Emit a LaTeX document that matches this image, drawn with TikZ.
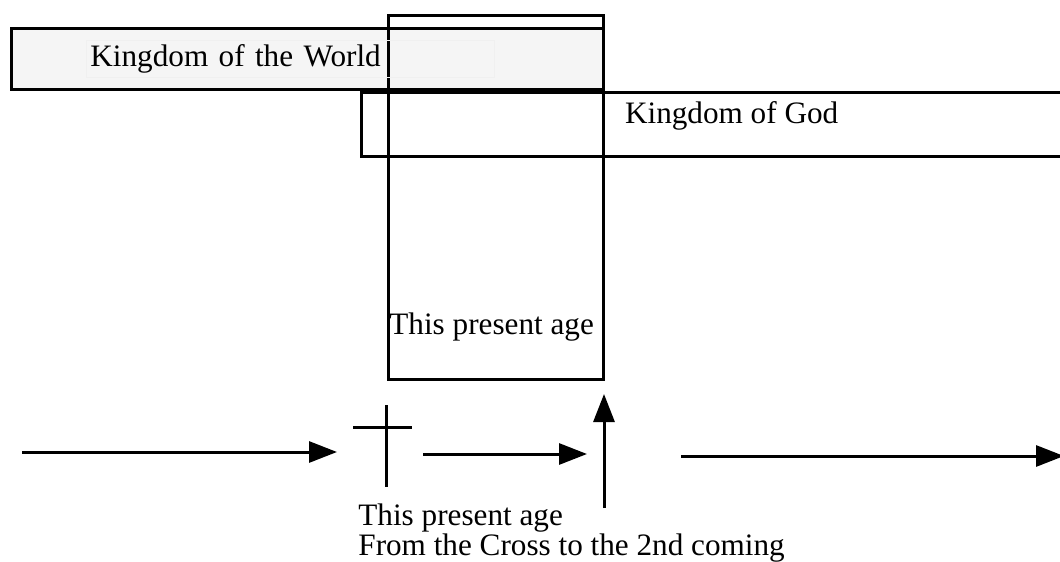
\documentclass[tikz,border=0pt]{standalone}
\usepackage{fontspec}
\setmainfont{Liberation Serif}
\usetikzlibrary{arrows.meta, positioning}

\begin{document}
\begin{tikzpicture}[x = 0.5pt, y = -0.5pt, font = \fontsize{15.6}{16.5}\selectfont,
		box/.style = {draw, line width = 1.4pt, inner sep = 0pt, anchor = north west},
		timeline/.style = {line width = 1.5pt, -{Triangle[length = 14pt, width = 10.5pt]}}]
				\useasboundingbox (0,0) rectangle (1060,562);

				% the two kingdoms and the present age
				\node[box, fill = black!4, minimum width = 296pt, minimum height = 30.5pt] (world) at (10,27) {};
				\node[box, minimum width = 355pt, minimum height = 32pt] (god) at (360,91) {};
				\node[box, minimum width = 107.5pt, minimum height = 182pt] (age) at (387,14) {};

				\node[draw = black!6, line width = 0.4pt, anchor = west, text width = 200pt, inner sep = 2pt, minimum height = 16pt] (worldtext) at (86,59) {Kingdom of the World};
				\node[anchor = base west] (godtext) at (618,123) {Kingdom of God};
				\node[anchor = base west, inner sep = 0pt] (agetext) at (389,334) {This present age};

				% time line
				\coordinate (past) at (22,452);
				\coordinate (pastend) at (337,452);
				\coordinate (crosstop) at (386,405);
				\coordinate (crossbot) at (386,487);
				\coordinate (armleft) at (353,427);
				\coordinate (armright) at (412,427);
				\coordinate (now) at (423,454);
				\coordinate (nowend) at (587,454);
				\coordinate (coming) at (604,508);
				\coordinate (cominghead) at (604,394);
				\coordinate (future) at (681,456);
				\coordinate (futureend) at (1064,456);

				\draw[timeline] (past) -- (pastend);
				\draw[line width = 1.5pt] (crosstop) -- (crossbot) (armleft) -- (armright);
				\draw[timeline] (now) -- (nowend);
				\draw[timeline] (coming) -- (cominghead);
				\draw[timeline] (future) -- (futureend);

				\node[anchor = north west, align = left, inner sep = 0pt, font = \fontsize{15.6}{11.5}\selectfont] (span) at (358,503) {This present age\\From the Cross to the 2nd coming};
		\end{tikzpicture}
\end{document}
